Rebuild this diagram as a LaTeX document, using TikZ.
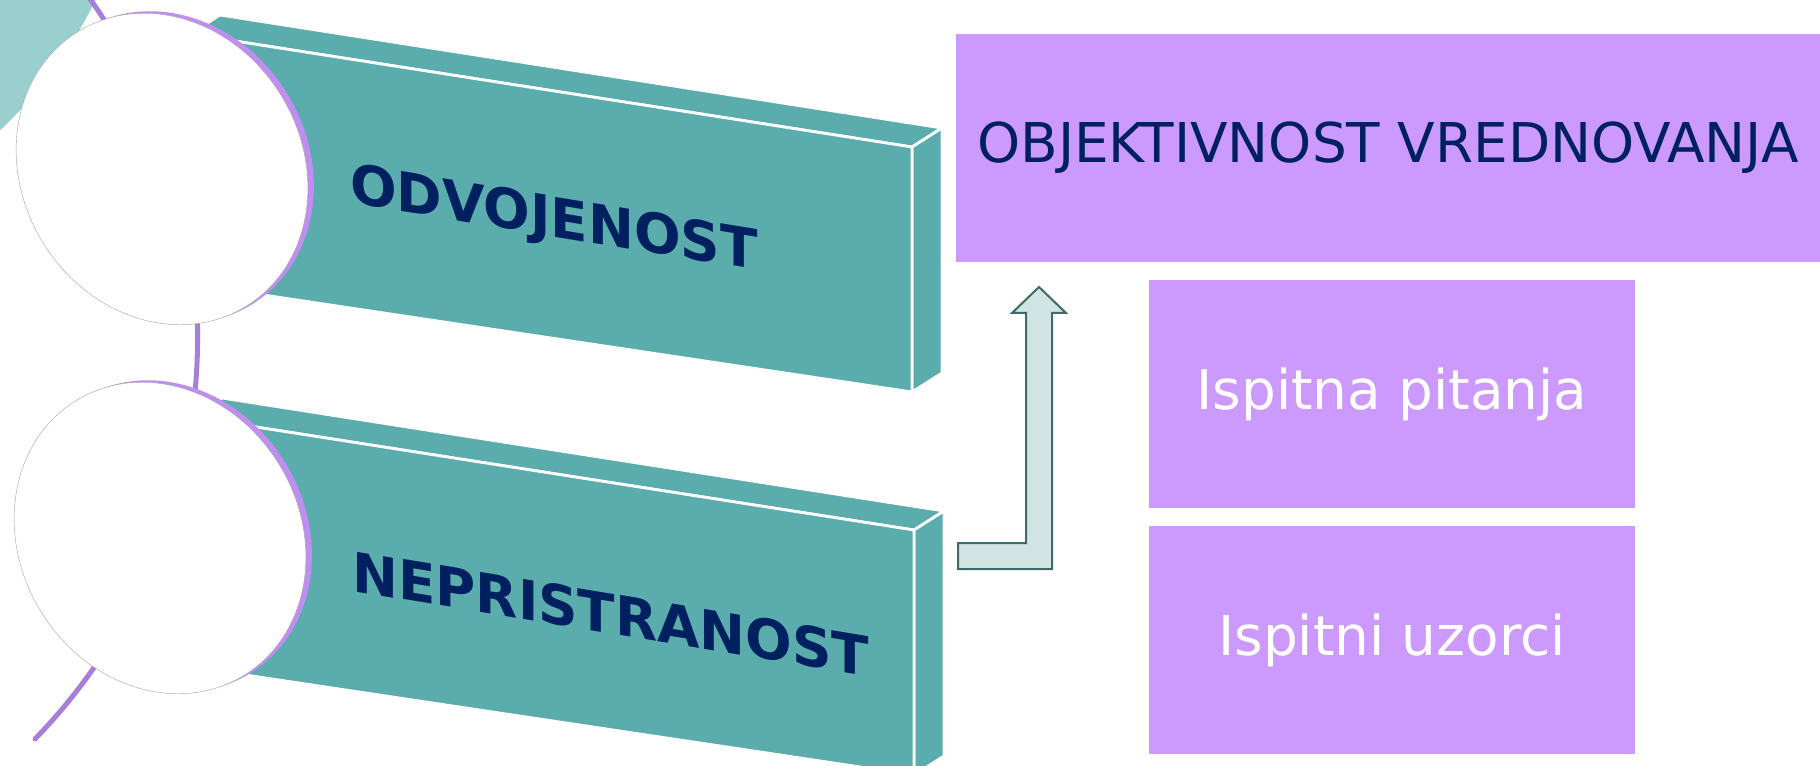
\documentclass[tikz,border=0pt]{standalone}
\usepackage{fontspec}
\setmainfont{DejaVu Sans}
\usetikzlibrary{shapes.geometric}

\definecolor{slabteal}{RGB}{91,172,172}
\definecolor{hubteal}{RGB}{154,207,207}
\definecolor{spineviolet}{RGB}{167,127,216}
\definecolor{rimviolet}{RGB}{192,142,240}
\definecolor{boxlilac}{RGB}{204,153,255}
\definecolor{inknavy}{RGB}{0,32,96}
\definecolor{arrowfill}{RGB}{208,228,227}
\definecolor{arrowedge}{RGB}{61,107,107}

\begin{document}
\begin{tikzpicture}[
    x=0.25mm, y=-0.25mm,
    line cap=round,
    face/.style={fill=slabteal, draw=white, line width=2pt, line join=round},
    disc/.style={ellipse, minimum width=70mm, minimum height=80.5mm, inner sep=0pt, rotate=31},
    slablabel/.style={text=inknavy, font=\bfseries\fontsize{39}{46}\selectfont, yslant=-0.165, inner sep=0pt},
    lilacbox/.style={fill=boxlilac, inner sep=0pt, font=\fontsize{39}{46}\selectfont}
]
  \useasboundingbox (0,0) rectangle (1820,766);
  \fill[hubteal] (-312,-198) circle[radius=453];
  \draw[spineviolet, line width=1.25mm] 
    (88,-4) 
    .. controls (252,226) and (230,538) .. 
    (35,739)
  ;
  \foreach \dx/\dy/\word in {0/0/ODVOJENOST, 2/383/NEPRISTRANOST}{
    \begin{scope}[shift={(\dx,\dy)}]
      \filldraw[face] (220,15) -- (942,128) -- (912,147) -- (190,34) -- cycle;
      \filldraw[face] (912,147) -- (942,128) -- (942,373) -- (912,392) -- cycle;
      \filldraw[face] (190,34) -- (912,147) -- (912,392) -- (190,284) -- cycle;
      \node[slablabel, anchor=west] (\word) at (350,188) {\word};
    \end{scope}
  }
  \foreach \cx/\cy/\name in {162/169/upper, 160/538/lower}{
    \node[disc, fill=rimviolet] at (\cx+6,\cy-2) {};
    \node[disc, fill=white, draw=gray!70, line width=0.3pt] (\name disc) at (\cx,\cy) {};
  }
  \filldraw[fill=arrowfill, draw=arrowedge, line width=0.5mm, line join=miter, line cap=butt]
    (958,543) -- (1026,543) -- (1026,313) -- (1012,313) -- (1039,287)
    -- (1066,313) -- (1052,313) -- (1052,569) -- (958,569) -- cycle
  ;
  \node[lilacbox, minimum width=216mm, minimum height=57mm, text=inknavy] 
    (goal) at (1388,148) {OBJEKTIVNOST VREDNOVANJA};
  \node[lilacbox, minimum width=121.5mm, minimum height=57mm, text=white] 
    (questions) at (1392,394) {Ispitna pitanja};
  \node[lilacbox, minimum width=121.5mm, minimum height=57mm, text=white] 
    (samples) at (1392,640) {Ispitni uzorci};
\end{tikzpicture}
\end{document}
